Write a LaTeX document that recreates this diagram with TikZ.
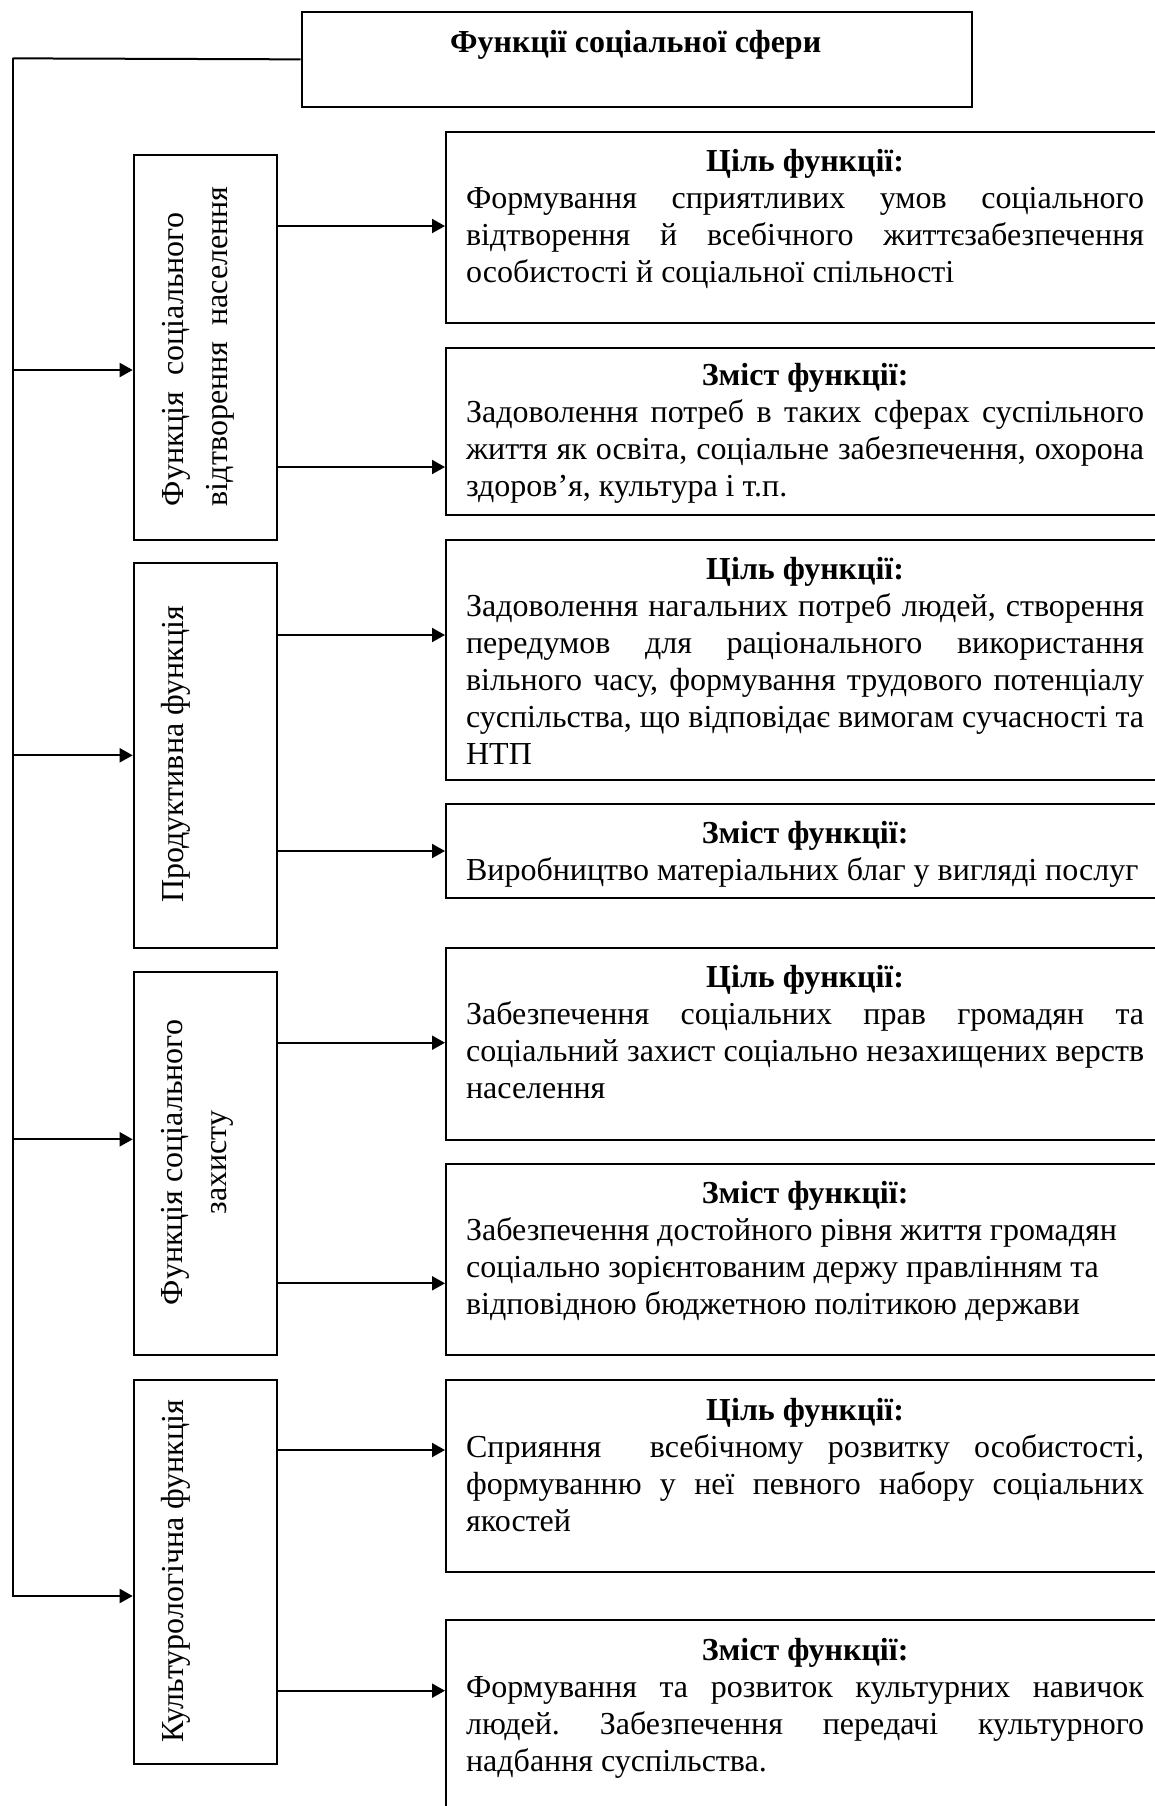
\documentclass[tikz,border=0pt]{standalone}
\usepackage{fontspec}
\setmainfont{Liberation Serif}
\usetikzlibrary{arrows.meta}
\frenchspacing

\tikzset{
  box/.style={draw, line width=1pt, rectangle, inner sep=0pt, anchor=north west},
  vtext/.style={rotate=90, anchor=base, inner sep=0pt, align=center, font=\fontsize{16}{22}\selectfont},
  btext/.style={anchor=base west, inner sep=0pt, text width=339pt, align=justify, font=\fontsize{16}{18.5}\selectfont},
  arr/.style={line width=1pt, -{Triangle[length=6.5pt,width=7pt]}},
  link/.style={line width=1pt}
}

\begin{document}
\begin{tikzpicture}[x=0.5pt,y=-0.5pt]
\useasboundingbox (0,0) rectangle (1155,1806);
\clip (0,0) rectangle (1155,1806);

% head
\node[box, minimum width=335.25pt, minimum height=47.65pt] (sphere) at (300.5,10.7) {};
\node[anchor=base, inner sep=0pt, font=\fontsize{16}{18.5}\selectfont\bfseries] (spheretxt) at (635.7,52) {Функції соціальної сфери};

% functions
\node[box, minimum width=71.65pt, minimum height=192.1pt] (repro) at (132.7,154.3) {};
\node[box, minimum width=71.65pt, minimum height=192.15pt] (prod) at (132.7,562.4) {};
\node[box, minimum width=71.65pt, minimum height=191.8pt] (protect) at (132.7,970.7) {};
\node[box, minimum width=71.65pt, minimum height=192pt] (cult) at (132.7,1379.3) {};

% multi-line labels: base is the baseline of the last line
\node[vtext, anchor=base west, align=left] (reprotxt) at (227,506.5) {Функція\ \ соціального\\відтворення\ \ населення};
\node[vtext] (prodtxt) at (183,754.5) {Продуктивна функція};
\node[vtext] (protecttxt) at (226,1162.5) {Функція соціального\\захисту};
\node[vtext] (culttxt) at (183,1571.3) {Культурологічна функція};

% aims and contents
\node[box, minimum width=360pt, minimum height=95.8pt] (aim1) at (445,130.7) {};
\node[box, minimum width=360pt, minimum height=83.8pt] (cont1) at (445,346.7) {};
\node[box, minimum width=360pt, minimum height=120.15pt] (aim2) at (445,538.5) {};
\node[box, minimum width=360pt, minimum height=47.3pt] (cont2) at (445,802.7) {};
\node[box, minimum width=360pt, minimum height=96.15pt] (aim3) at (445,946.7) {};
\node[box, minimum width=360pt, minimum height=95.8pt] (cont3) at (445,1162.7) {};
\node[box, minimum width=360pt, minimum height=95.7pt] (aim4) at (445,1379.3) {};
\node[box, minimum width=360pt, minimum height=115pt] (cont4) at (445,1619.3) {};

\node[btext] (aim1txt) at (465.7,171) {{\centering\bfseries Ціль функції:\par}
Формування сприятливих умов соціального\linebreak відтворення й всебічного життєзабезпечення\linebreak особистості й соціальної спільності};
\node[btext] (cont1txt) at (465.7,385) {{\centering\bfseries Зміст функції:\par}
Задоволення потреб в таких сферах суспільного\linebreak життя як освіта, соціальне забезпечення, охорона\linebreak здоров’я, культура і т.п.};
\node[btext] (aim2txt) at (465.7,579) {{\centering\bfseries Ціль функції:\par}
Задоволення нагальних потреб людей, створення\linebreak передумов для раціонального використання\linebreak вільного часу, формування трудового потенціалу\linebreak суспільства, що відповідає вимогам сучасності та\linebreak НТП};
\node[btext] (cont2txt) at (465.7,843) {{\centering\bfseries Зміст функції:\par}
Виробництво матеріальних благ у вигляді послуг};
\node[btext] (aim3txt) at (465.7,987) {{\centering\bfseries Ціль функції:\par}
Забезпечення соціальних прав громадян та\linebreak соціальний захист соціально незахищених верств\linebreak населення};
\node[btext] (cont3txt) at (465.7,1203) {{\centering\bfseries Зміст функції:\par}
Забезпечення достойного рівня життя громадян\newline соціально зорієнтованим держу правлінням та\newline відповідною бюджетною політикою держави};
\node[btext] (aim4txt) at (465.7,1420) {{\centering\bfseries Ціль функції:\par}
Сприяння\ \ всебічному розвитку особистості,\linebreak формуванню у неї певного набору соціальних\linebreak якостей};
\node[btext] (cont4txt) at (465.7,1660) {{\centering\bfseries Зміст функції:\par}
Формування та розвиток культурних навичок\linebreak людей. Забезпечення передачі культурного\linebreak надбання суспільства.};

% connectors
\coordinate (bus) at (12.5,58.35);
\draw[link] (sphere.west) -- (bus);
\draw[arr] (bus) |- (cult.west |- 0,1596);
\draw[arr] (bus |- 0,370) -- (repro.west |- 0,370);
\draw[arr] (bus |- 0,755.3) -- (prod.west |- 0,755.3);
\draw[arr] (bus |- 0,1139.3) -- (protect.west |- 0,1139.3);

\draw[arr] (repro.east |- 0,226) -- (aim1.west |- 0,226);
\draw[arr] (repro.east |- 0,467) -- (cont1.west |- 0,467);
\draw[arr] (prod.east |- 0,635) -- (aim2.west |- 0,635);
\draw[arr] (prod.east |- 0,851) -- (cont2.west |- 0,851);
\draw[arr] (protect.east |- 0,1042.7) -- (aim3.west |- 0,1042.7);
\draw[arr] (protect.east |- 0,1283.3) -- (cont3.west |- 0,1283.3);
\draw[arr] (cult.east |- 0,1450) -- (aim4.west |- 0,1450);
\draw[arr] (cult.east |- 0,1690.7) -- (cont4.west |- 0,1690.7);
\end{tikzpicture}
\end{document}
